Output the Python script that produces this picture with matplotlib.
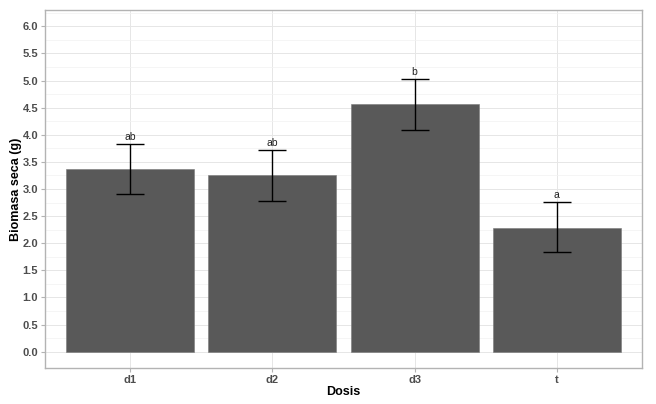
import matplotlib
matplotlib.use("Agg")
import matplotlib.pyplot as plt
import numpy as np

# ---------- DATA ----------
dosis = ["d1", "d2", "d3", "t"]
biomasa = [3.36, 3.25, 4.56, 2.29]
err_low = [2.90, 2.78, 4.09, 1.83]
err_high = [3.83, 3.72, 5.03, 2.76]
letras = ["ab", "ab", "b", "a"]
y_ticks = np.arange(0, 6.01, 0.5)

plt.rcParams["font.family"] = ["Liberation Sans", "DejaVu Sans"]

fig = plt.figure(figsize=(6.56, 4.04), dpi=100)
ax = fig.add_axes([45 / 656, 36 / 404, 597 / 656, 358 / 404])

x = np.arange(1, len(dosis) + 1)
ax.bar(x, biomasa, width=0.9, color="#595959", edgecolor="#7a7a7a",
       linewidth=0.4, zorder=2)

# error bars as ggplot-style segments
lo = np.array(biomasa) - np.array(err_low)
hi = np.array(err_high) - np.array(biomasa)
ax.errorbar(x, biomasa, yerr=[lo, hi], fmt="none", ecolor="black",
            elinewidth=1.0, capsize=10, capthick=1.0, zorder=3)

for xi, top, lab in zip(x, err_high, letras):
    ax.text(xi, top + 0.04, lab, ha="center", va="bottom", fontsize=7.5,
            color="#222222", zorder=4)

ax.set_xlim(0.4, 4.6)
ax.set_ylim(-0.3, 6.3)
ax.set_xticks(x)
ax.set_xticklabels(dosis)
ax.set_yticks(y_ticks)
ax.set_yticklabels([f"{v:.1f}" for v in y_ticks])
ax.set_yticks(np.arange(0.25, 6.3, 0.5), minor=True)

# grid (theme_light look)
ax.grid(True, which="major", color="#E6E6E6", linewidth=0.7, zorder=0)
ax.grid(True, which="minor", axis="y", color="#F2F2F2", linewidth=0.5, zorder=0)
ax.set_axisbelow(True)

for s in ax.spines.values():
    s.set_color("#B3B3B3")
    s.set_linewidth(1.0)

ax.tick_params(axis="both", which="major", length=3, color="#B3B3B3",
               labelsize=8, labelcolor="#4D4D4D", pad=2)
ax.tick_params(axis="both", which="minor", length=0)
for lbl in ax.get_xticklabels() + ax.get_yticklabels():
    lbl.set_fontweight("bold")

ax.set_xlabel("Dosis", fontsize=9, fontweight="bold", labelpad=1)
ax.set_ylabel("Biomasa seca (g)", fontsize=9, fontweight="bold", labelpad=0)

fig.savefig("out.png", dpi=100)
